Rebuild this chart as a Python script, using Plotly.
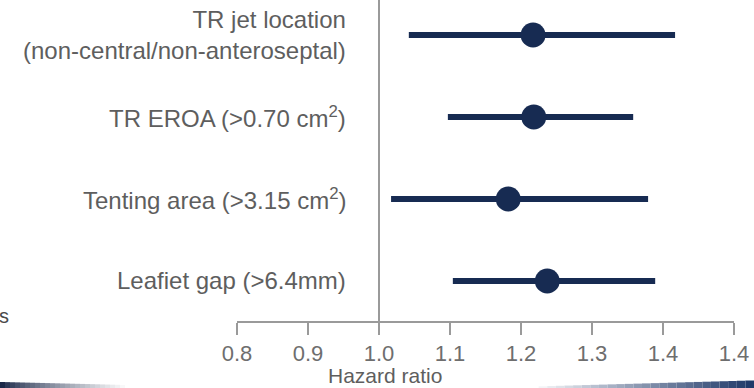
import plotly.graph_objects as go

# ---- data ----
labels = [
    "TR jet location<br>(non-central/non-anteroseptal)",
    "TR EROA (>0.70 cm<sup>2</sup>)",
    "Tenting area (>3.15 cm<sup>2</sup>)",
    "Leafiet gap (>6.4mm)",
]
row_pos = [3, 2, 1, 0]
hr = [1.217, 1.218, 1.182, 1.237]
ci_low = [1.042, 1.097, 1.017, 1.104]
ci_high = [1.417, 1.358, 1.379, 1.389]
tick_vals = [0.8, 0.9, 1.0, 1.1, 1.2, 1.3, 1.4, 1.5]
tick_text = ["0.8", "0.9", "1.0", "1.1", "1.2", "1.3", "1.4", "1.4"]
x_title = "Hazard ratio"

NAVY = "#172b52"
GREY_TXT = "#5e5e5e"
AXIS_GREY = "#9a9a9a"
FONT = "Liberation Sans, Arial, sans-serif"

fig = go.Figure()
fig.add_trace(go.Scatter(
    x=hr, y=row_pos, mode="markers",
    marker=dict(size=25, color=NAVY),
    error_x=dict(type="data", symmetric=False,
                 array=[h - m for h, m in zip(ci_high, hr)],
                 arrayminus=[m - l for m, l in zip(hr, ci_low)],
                 thickness=6, width=0, color=NAVY),
    showlegend=False, hoverinfo="skip",
))

# reference line at HR = 1
fig.add_shape(type="line", xref="x", yref="paper", x0=1.0, x1=1.0, y0=0, y1=1,
              line=dict(color=AXIS_GREY, width=2), layer="below")

# row labels
for lab, yp in zip(labels, row_pos):
    fig.add_annotation(text=lab, xref="paper", yref="y", x=0.2233, y=yp,
                       xanchor="right", yanchor="middle", align="right",
                       showarrow=False, font=dict(family=FONT, size=24, color=GREY_TXT))

# x axis title (offset to the left)
fig.add_annotation(text=x_title, xref="paper", yref="paper", x=0.2986, y=-0.171,
                   xanchor="center", yanchor="middle", showarrow=False,
                   font=dict(family=FONT, size=21, color=GREY_TXT))

# cropped text fragment at left edge
fig.add_annotation(text="s", xref="paper", yref="paper", x=-0.454, y=0.016,
                   xanchor="right", yanchor="middle", showarrow=False,
                   font=dict(family=FONT, size=20, color="#4a4a4a"))


# decorative bottom bands (slide footer gradient), drawn as fine steps
def px_to_paper_x(px):
    return (px - 237) / 497


def px_to_paper_y(py):
    return (321 - py) / 321


def mix(c1, c2, t):
    a = [int(c1[i:i + 2], 16) for i in (1, 3, 5)]
    b = [int(c2[i:i + 2], 16) for i in (1, 3, 5)]
    return "#%02x%02x%02x" % tuple(round(a[k] + (b[k] - a[k]) * t) for k in range(3))


n = 26
for i in range(n):
    t = i / (n - 1)
    x0 = i * 130 / n
    x1 = (i + 1) * 130 / n
    col = mix("#1a2748", "#ffffff", t ** 0.8)
    fig.add_shape(type="rect", xref="paper", yref="paper",
                  x0=px_to_paper_x(x0), x1=px_to_paper_x(x1),
                  y0=px_to_paper_y(388), y1=px_to_paper_y(382 + 3 * t),
                  fillcolor=col, line=dict(width=0), layer="above")
for i in range(n):
    t = i / (n - 1)
    x0 = 530 + i * 224 / n
    x1 = 530 + (i + 1) * 224 / n
    col = mix("#ffffff", "#213a6a", t ** 0.9)
    fig.add_shape(type="rect", xref="paper", yref="paper",
                  x0=px_to_paper_x(x0), x1=px_to_paper_x(x1),
                  y0=px_to_paper_y(388), y1=px_to_paper_y(386.5 - 6 * t),
                  fillcolor=col, line=dict(width=0), layer="above")

fig.update_layout(
    width=754, height=388,
    margin=dict(l=237, r=20, t=0, b=67),
    paper_bgcolor="white", plot_bgcolor="white",
    xaxis=dict(range=[0.8, 1.5], tickvals=tick_vals, ticktext=tick_text,
               showgrid=False, zeroline=False, showline=True, linecolor=AXIS_GREY,
               linewidth=2, ticks="outside", ticklen=12, tickwidth=2, tickcolor=AXIS_GREY,
               tickfont=dict(family=FONT, size=22, color="#6e6e6e"), fixedrange=True),
    yaxis=dict(range=[-0.488, 3.427], showgrid=False, zeroline=False, showline=False,
               showticklabels=False, ticks="", fixedrange=True),
)

fig.write_html("out.html")
